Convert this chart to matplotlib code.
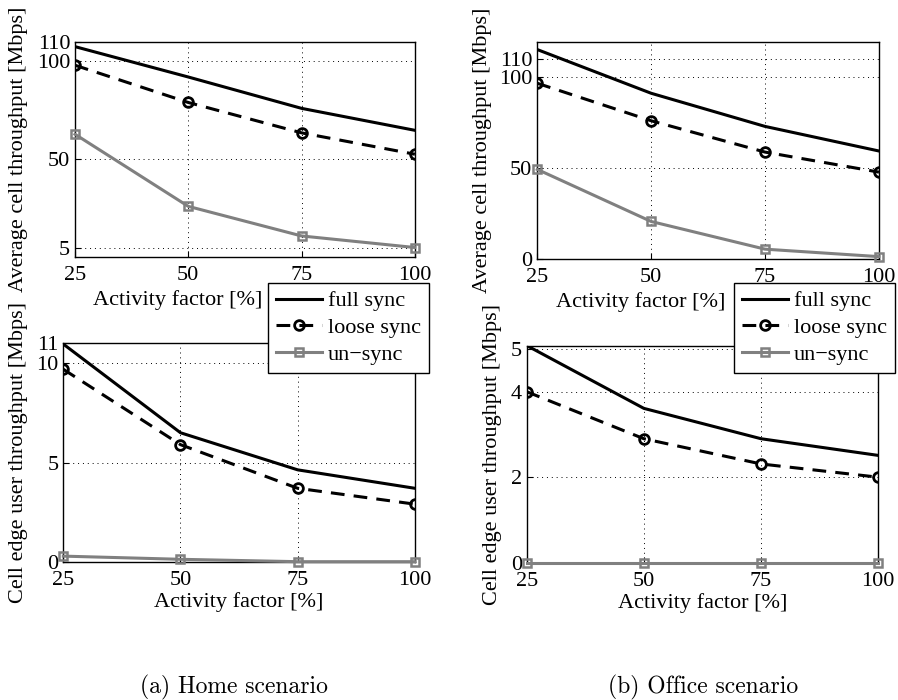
import numpy as np
import matplotlib
matplotlib.use('Agg')
from matplotlib import pyplot as plt

# 数据
activity = [25, 50, 75, 100]
series_names = ['full sync', 'loose sync', 'un\u2212sync']

home_avg_full = [107.5, 92, 76, 64.8]
home_avg_loose = [98, 79, 63.5, 52.6]
home_avg_unsync = [62.8, 26, 10.9, 5]

office_avg_full = [115, 91, 72.8, 59.3]
office_avg_loose = [96.5, 75.9, 58.7, 47.7]
office_avg_unsync = [49.2, 20.6, 5.4, 1.3]

home_edge_full = [10.97, 6.5, 4.63, 3.7]
home_edge_loose = [9.7, 5.9, 3.7, 2.9]
home_edge_unsync = [0.28, 0.12, 0.0, 0.0]

office_edge_full = [5.08, 3.61, 2.9, 2.51]
office_edge_loose = [4.0, 2.9, 2.31, 2.0]
office_edge_unsync = [0.0, 0.0, 0.0, 0.0]

home_avg_ticks = [5, 50, 100, 110]
office_avg_ticks = [0, 50, 100, 110]
home_edge_ticks = [0, 5, 10, 11]
office_edge_ticks = [0, 2, 4, 5]

xlabel = 'Activity factor [%]'
ylabel_avg = 'Average cell throughput [Mbps]'
ylabel_edge = 'Cell edge user throughput [Mbps]'
captions = ['(a) Home scenario', '(b) Office scenario']

plt.rcParams['font.family'] = ['Liberation Serif', 'DejaVu Serif']
plt.rcParams['font.size'] = 16

GRAY = '#808080'
FIG_W, FIG_H = 898, 700


def draw(ax, full, loose, unsync, ylim, yticks, ylab, label_x, xlab_x, xlab_dy):
    ax.plot(activity, full, color='black', lw=2.2, label=series_names[0])
    ax.plot(activity, loose, color='black', lw=2.2, linestyle=(0, (4.5, 3)),
            marker='o', markersize=7, markerfacecolor='none',
            markeredgewidth=2, label=series_names[1])
    ax.plot(activity, unsync, color=GRAY, lw=2.2, marker='s', markersize=6,
            markerfacecolor='none', markeredgewidth=1.8,
            label=series_names[2], clip_on=False, zorder=3)
    ax.set_xlim(25, 100)
    ax.set_ylim(*ylim)
    ax.set_xticks(activity)
    ax.set_yticks(yticks)
    ax.grid(True, linestyle=(0, (1, 4)), color='black', linewidth=0.7)
    ax.tick_params(direction='in', length=4, labelsize=16)
    ax.tick_params(axis='x', pad=6.5)
    ax.tick_params(axis='y', pad=3.5)
    ax.set_xlabel(xlabel, fontsize=16)
    ax.set_ylabel(ylab, fontsize=16)
    ax.yaxis.set_label_coords(label_x, 0.5)
    # 横轴标题位置 (像素换算成坐标轴比例)
    h_px = ax.get_position().height * FIG_H
    ax.xaxis.set_label_coords(xlab_x, -xlab_dy / h_px)
    for s in ax.spines.values():
        s.set_linewidth(1.0)


fig = plt.figure(figsize=(FIG_W / 100, FIG_H / 100), dpi=100)

ax1 = fig.add_axes([0.0835, 0.6324, 0.3785, 0.308])
ax2 = fig.add_axes([0.5983, 0.6300, 0.3805, 0.3096])
ax3 = fig.add_axes([0.0705, 0.1976, 0.3915, 0.3117])
ax4 = fig.add_axes([0.5865, 0.1961, 0.3915, 0.3103])

draw(ax1, home_avg_full, home_avg_loose, home_avg_unsync, (0, 110),
     home_avg_ticks, ylabel_avg, -0.138, 0.303, 33)
draw(ax2, office_avg_full, office_avg_loose, office_avg_unsync, (0, 119),
     office_avg_ticks, ylabel_avg, -0.133, 0.303, 33)
draw(ax3, home_edge_full, home_edge_loose, home_edge_unsync, (0, 11),
     home_edge_ticks, ylabel_edge, -0.10, 0.5, 30)
draw(ax4, office_edge_full, office_edge_loose, office_edge_unsync, (0, 5.08),
     office_edge_ticks, ylabel_edge, -0.07, 0.5, 30)

for ax, x0 in [(ax3, 0.2984), (ax4, 0.8174)]:
    leg = ax.legend(loc='upper left', bbox_to_anchor=(x0, 0.5957),
                    bbox_transform=fig.transFigure, fancybox=False,
                    framealpha=1, edgecolor='black', fontsize=16,
                    handlelength=2.1, handletextpad=0.25, borderpad=0.35,
                    labelspacing=0.28, borderaxespad=0)
    leg.get_frame().set_linewidth(1.0)
    leg.set_zorder(10)

fig.text(233.5 / FIG_W, 1 - 687 / FIG_H, captions[0], family='cmr10',
         fontsize=17, ha='center', va='center')
fig.text(703.5 / FIG_W, 1 - 687 / FIG_H, captions[1], family='cmr10',
         fontsize=17, ha='center', va='center')

plt.savefig('out.png', dpi=100)
